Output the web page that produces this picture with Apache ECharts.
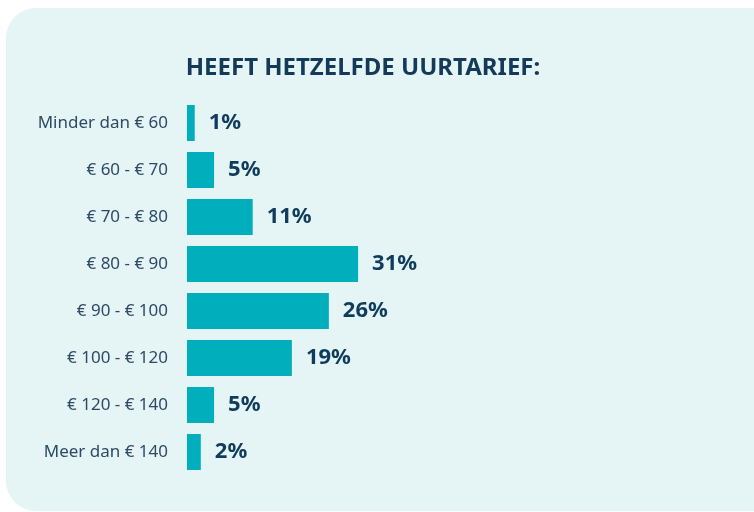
<!DOCTYPE html>
<html>
<head>
<meta charset="utf-8">
<title>Uurtarief</title>
<script src="https://cdn.jsdelivr.net/npm/echarts@6/dist/echarts.min.js"></script>
<style>
  html, body { margin: 0; padding: 0; background: #fff; }
  #chart { width: 754px; height: 512px; }
</style>
</head>
<body>
<div id="chart"></div>
<script>
// categorieën (van boven naar onder)
const categories = [
  "Minder dan € 60",
  "€ 60 - € 70",
  "€ 70 - € 80",
  "€ 80 - € 90",
  "€ 90 - € 100",
  "€ 100 - € 120",
  "€ 120 - € 140",
  "Meer dan € 140"
];
const values = [1.4, 4.9, 11.9, 31, 25.7, 19, 4.9, 2.5];
// getoonde labels (afgeronde percentages)
const shownLabels = ["1%", "5%", "11%", "31%", "26%", "19%", "5%", "2%"];

const chart = echarts.init(document.getElementById("chart"));

chart.setOption({
  animation: false,
  textStyle: { fontFamily: "Noto Sans" },
  graphic: [{
    type: "rect",
    z: -10,
    shape: { x: 6, y: 8, width: 790, height: 503, r: 30 },
    style: { fill: "#e5f4f5" }
  }],
  title: {
    text: "HEEFT HETZELFDE UURTARIEF:",
    left: 358,
    textAlign: "center",
    top: 51,
    textStyle: {
      fontFamily: "Noto Sans",
      fontWeight: "bold",
      fontSize: 24,
      color: "#133a59"
    }
  },
  grid: {
    left: 187,
    top: 99.5,
    width: 552,
    height: 376,
    containLabel: false
  },
  xAxis: {
    type: "value",
    min: 0,
    max: 100,
    show: false
  },
  yAxis: {
    type: "category",
    inverse: true,
    data: categories,
    axisLine: { show: false },
    axisTick: { show: false },
    splitLine: { show: false },
    axisLabel: {
      margin: 19,
      fontSize: 17,
      color: "#2d4b66",
      lineHeight: 24,
      verticalAlign: "middle",
      padding: [6, 0, 0, 0]
    }
  },
  series: [{
    type: "bar",
    data: values,
    barWidth: 36,
    itemStyle: { color: "#00afbb" },
    label: {
      show: true,
      position: "right",
      distance: 14,
      fontSize: 22,
      fontWeight: "bold",
      color: "#0f3c5d",
      formatter: function (p) {
        return shownLabels[p.dataIndex];
      }
    }
  }]
});
</script>
</body>
</html>
